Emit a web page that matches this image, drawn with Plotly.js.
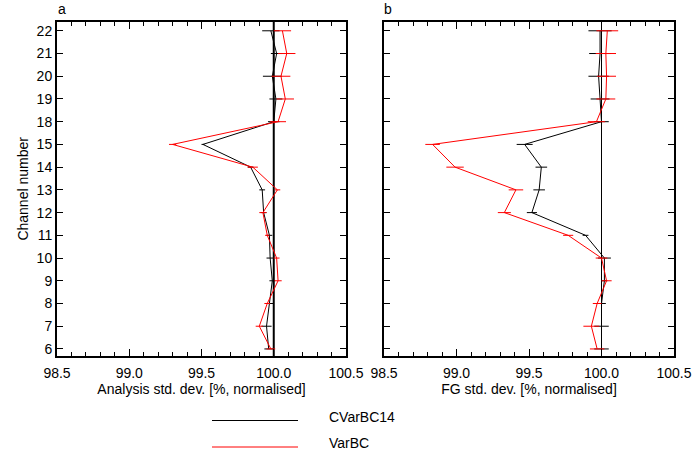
<!DOCTYPE html>
<html>
<head>
<meta charset="utf-8">
<script src="https://cdn.plot.ly/plotly-3.0.1.min.js"></script>
<style>html,body{margin:0;padding:0;background:#fff;}#chart{width:693px;height:450px;}</style>
</head>
<body>
<div id="chart"></div>
<script>
// Channel numbers (categories, bottom to top)
var channels = [6, 7, 8, 9, 10, 11, 12, 13, 14, 15, 18, 19, 20, 21, 22];
var seriesNames = ["CVarBC14", "VarBC"];
var seriesColors = ["#000000", "#ff0000"];

// Panel a: analysis std. dev. [%, normalised]
var anaCVarBC14 = [99.965, 99.95, 99.97, 99.99, 99.975, 99.97, 99.93, 99.92, 99.84, 99.51, 100.0, 100.015, 99.99, 100.02, 99.98];
var anaCVarBC14Err = [0.03, 0.035, 0.03, 0.02, 0.025, 0.02, 0.02, 0.02, 0.02, 0.01, 0.04, 0.045, 0.065, 0.04, 0.06];
var anaVarBC = [99.98, 99.90, 99.955, 100.03, 100.02, 99.955, 99.925, 100.025, 99.855, 99.30, 100.03, 100.08, 100.05, 100.09, 100.06];
var anaVarBCErr = [0.03, 0.025, 0.02, 0.025, 0.02, 0.015, 0.025, 0.02, 0.035, 0.025, 0.055, 0.06, 0.065, 0.06, 0.06];

// Panel b: first-guess std. dev. [%, normalised]
var fgCVarBC14 = [100.0, 100.0, 100.0, 100.02, 100.02, 99.89, 99.52, 99.57, 99.585, 99.47, 100.0, 99.99, 99.98, 99.99, 99.99];
var fgCVarBC14Err = [0.05, 0.05, 0.03, 0.02, 0.045, 0.02, 0.035, 0.04, 0.04, 0.055, 0.05, 0.065, 0.07, 0.075, 0.08];
var fgVarBC = [99.97, 99.93, 99.97, 100.035, 100.0, 99.77, 99.33, 99.41, 98.99, 98.835, 99.965, 100.03, 100.035, 100.03, 100.04];
var fgVarBCErr = [0.05, 0.055, 0.03, 0.035, 0.04, 0.035, 0.045, 0.05, 0.06, 0.05, 0.06, 0.065, 0.065, 0.07, 0.075];

var panelLabels = ["a", "b"];
var xTitles = ["Analysis std. dev. [%, normalised]", "FG std. dev. [%, normalised]"];
var yTitle = "Channel number";
var xTickVals = [98.5, 99.0, 99.5, 100.0, 100.5];
var xTickText = ["98.5", "99.0", "99.5", "100.0", "100.5"];

var W = 693, H = 450;
var yIdx = channels.map(function (c, i) { return i; });
var chanText = channels.map(String);

function tr(x, err, k, xa, ya) {
  return {
    x: x, y: yIdx, type: "scatter", mode: "lines",
    name: seriesNames[k], xaxis: xa, yaxis: ya, showlegend: false,
    line: {color: seriesColors[k], width: 1},
    error_x: {type: "data", array: err, visible: true, color: seriesColors[k], thickness: 1, width: 0},
    hoverinfo: "x+y"
  };
}

var data = [
  tr(anaCVarBC14, anaCVarBC14Err, 0, "x", "y"),
  tr(anaVarBC, anaVarBCErr, 1, "x", "y"),
  tr(fgCVarBC14, fgCVarBC14Err, 0, "x2", "y2"),
  tr(fgVarBC, fgVarBCErr, 1, "x2", "y2")
];

var font = {family: "Liberation Sans, Arial, sans-serif", size: 14, color: "#000"};

function xax(domain, title, anchor) {
  return {
    domain: domain, anchor: anchor, range: [98.5, 100.5],
    tickvals: xTickVals, ticktext: xTickText,
    ticks: "inside", ticklen: 7, tickwidth: 1, tickcolor: "#000",
    ticklabelstandoff: 3,
    minor: {dtick: 0.1, ticks: "inside", ticklen: 4, tickwidth: 1, tickcolor: "#000", showgrid: false},
    showline: true, linewidth: 2, linecolor: "#000", mirror: "ticks",
    showgrid: false, zeroline: false,
    title: {text: title, font: font, standoff: 0},
    tickfont: font
  };
}
function yax(domain, showLabels, anchor) {
  return {
    domain: domain, anchor: anchor, range: [-0.31, 14.4],
    tickvals: yIdx, ticktext: chanText, showticklabels: showLabels,
    ticks: "inside", ticklen: 6, tickwidth: 1, tickcolor: "#000",
    showline: true, linewidth: 2, linecolor: "#000", mirror: "ticks",
    showgrid: false, zeroline: false,
    title: showLabels ? {text: yTitle, font: font, standoff: 5} : {text: ""},
    tickfont: font
  };
}

var yDom = [1 - 356 / H, 1 - 21.7 / H];
var layout = {
  width: W, height: H,
  margin: {l: 0, r: 0, t: 0, b: 0},
  paper_bgcolor: "#fff", plot_bgcolor: "#fff",
  font: font,
  showlegend: false,
  xaxis: xax([57 / W, 346 / W], xTitles[0], "y"),
  yaxis: yax(yDom, true, "x"),
  xaxis2: xax([384 / W, 674 / W], xTitles[1], "y2"),
  yaxis2: yax(yDom, false, "x2"),
  shapes: [
    {type: "line", xref: "x", yref: "y domain", x0: 100, x1: 100, y0: 0, y1: 1, line: {color: "#000", width: 2}, layer: "below"},
    {type: "line", xref: "x2", yref: "y2 domain", x0: 100, x1: 100, y0: 0, y1: 1, line: {color: "#000", width: 1}, layer: "below"},
    {type: "line", xref: "paper", yref: "paper", x0: 212 / W, x1: 298 / W, y0: 1 - 420.5 / H, y1: 1 - 420.5 / H, line: {color: seriesColors[0], width: 1}},
    {type: "line", xref: "paper", yref: "paper", x0: 212 / W, x1: 298 / W, y0: 1 - 447 / H, y1: 1 - 447 / H, line: {color: seriesColors[1], width: 1}}
  ],
  annotations: [
    {text: panelLabels[0], xref: "paper", yref: "paper", x: 56 / W, y: 1 - 19 / H, xanchor: "left", yanchor: "bottom", showarrow: false, font: font},
    {text: panelLabels[1], xref: "paper", yref: "paper", x: 382 / W, y: 1 - 19 / H, xanchor: "left", yanchor: "bottom", showarrow: false, font: font},
    {text: seriesNames[0], xref: "paper", yref: "paper", x: 327 / W, y: 1 - 417 / H, xanchor: "left", yanchor: "middle", showarrow: false, font: font},
    {text: seriesNames[1], xref: "paper", yref: "paper", x: 327 / W, y: 1 - 443 / H, xanchor: "left", yanchor: "middle", showarrow: false, font: font}
  ]
};

Plotly.newPlot("chart", data, layout, {displayModeBar: false, staticPlot: true});
</script>
</body>
</html>
